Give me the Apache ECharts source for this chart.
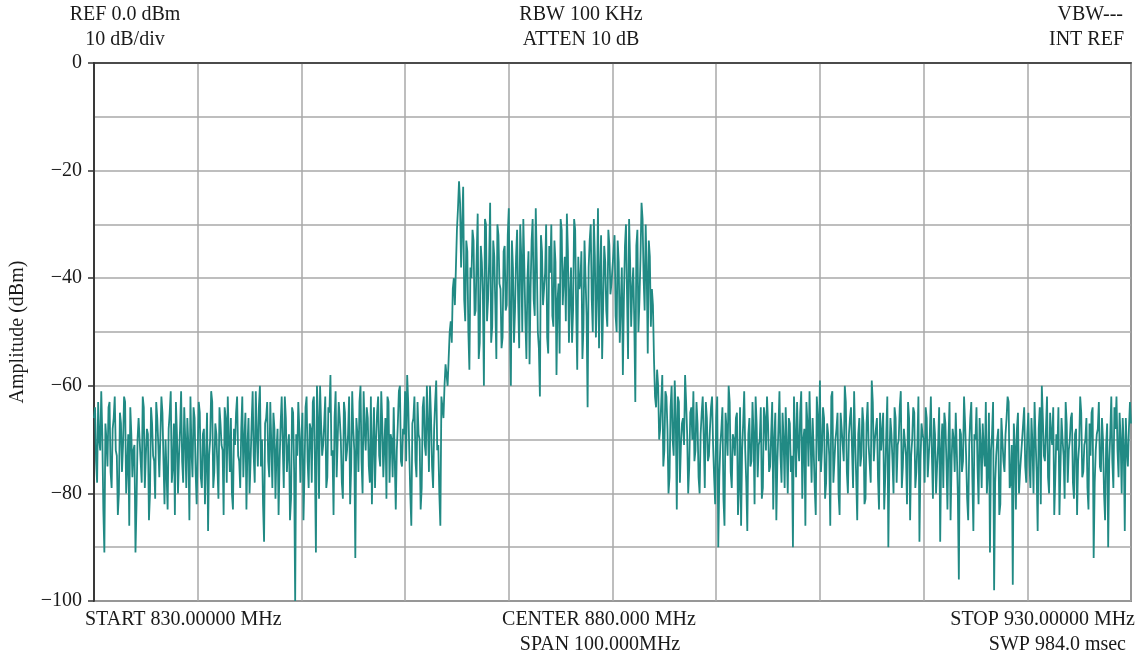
<!DOCTYPE html>
<html>
<head>
<meta charset="utf-8">
<script src="https://cdn.jsdelivr.net/npm/echarts@6/dist/echarts.min.js"></script>
<style>
html,body{margin:0;padding:0;background:#fff;}
#chart{width:1145px;height:661px;}
</style>
</head>
<body>
<div id="chart"></div>
<script>
// Frequency sweep (MHz)
const startMHz = 830;
const stopMHz = 930;
const stepMHz = 0.1;

// Amplitude (dBm) read at 830.0, 830.2, ... (even samples)
const amp830 = [-66,-74,-63,-72,-69,-91,-70,-64,-76,-68, -62,-73,-80,-67,-71,-63,-75,-86,-69,-72,
  -91,-70,-66,-78,-64,-73,-69,-80,-67,-74, -63,-71,-77,-65,-82,-70,-68,-61,-75,-84,
  -69,-73,-61,-78,-70,-66,-85,-72,-64,-76];
const amp840 = [-72,-65,-79,-68,-74,-87,-70,-63,-76,-69, -81,-67,-72,-64,-78,-70,-66,-83,-71,-62,
  -74,-68,-77,-65,-71,-80,-67,-73,-61,-75, -60,-70,-89,-66,-74,-63,-79,-68,-72,-84,
  -67,-71,-62,-76,-69,-81,-65,-100,-73,-68];
const amp850 = [-70,-85,-64,-74,-67,-78,-62,-91,-66,-60, -73,-67,-79,-64,-58,-72,-66,-77,-63,-70,
  -81,-65,-72,-62,-75,-68,-92,-69,-63,-74, -61,-72,-66,-78,-82,-64,-70,-62,-75,-67,
  -71,-81,-63,-69,-77,-64,-72,-61,-74,-68];
const amp860 = [-61,-58,-72,-86,-66,-74,-63,-70,-79,-62, -73,-67,-60,-75,-68,-59,-71,-86,-64,-60,
  -58,-55,-48,-42,-45,-31,-22,-38,-23,-48, -35,-57,-40,-33,-46,-28,-52,-37,-60,-30,
  -44,-26,-49,-36,-55,-32,-42,-51,-34,-45];
const amp870 = [-27,-60,-38,-46,-31,-53,-36,-29,-48,-40, -56,-33,-44,-27,-50,-62,-35,-42,-30,-54,
  -39,-47,-33,-58,-41,-29,-45,-36,-28,-52, -38,-46,-31,-57,-42,-35,-49,-40,-64,-33,
  -44,-29,-51,-27,-39,-55,-34,-46,-31,-43];
const amp880 = [-41,-32,-50,-37,-45,-58,-34,-43,-29,-49, -38,-63,-31,-44,-26,-40,-30,-54,-36,-42,
  -55,-64,-60,-68,-58,-72,-62,-80,-64,-70, -59,-83,-63,-71,-66,-58,-69,-75,-64,-61,
  -72,-67,-80,-65,-70,-63,-74,-68,-62,-77];
const amp890 = [-66,-90,-71,-64,-86,-68,-60,-76,-69,-73, -65,-79,-86,-67,-72,-87,-66,-74,-69,-62,
  -77,-70,-81,-64,-72,-67,-75,-63,-70,-85, -68,-73,-65,-79,-71,-66,-76,-90,-69,-63,
  -74,-61,-70,-86,-67,-61,-78,-72,-84,-66];
const amp900 = [-59,-72,-66,-78,-69,-86,-61,-74,-68,-80, -65,-71,-60,-76,-69,-64,-79,-70,-85,-66,
  -73,-67,-81,-63,-71,-59,-74,-68,-77,-65, -72,-83,-69,-90,-66,-74,-64,-78,-70,-61,
  -75,-68,-82,-66,-73,-64,-79,-71,-89,-67];
const amp910 = [-70,-64,-77,-69,-73,-66,-80,-71,-89,-67, -65,-74,-70,-85,-68,-76,-72,-96,-69,-74,
  -67,-81,-71,-63,-87,-70,-75,-66,-79,-72, -63,-76,-91,-69,-98,-73,-68,-82,-70,-76,
  -66,-63,-78,-97,-71,-68,-80,-73,-67,-75];
const amp920 = [-69,-74,-66,-80,-70,-87,-64,-60,-73,-68, -77,-65,-71,-84,-69,-64,-75,-70,-81,-67,
  -72,-66,-78,-69,-84,-71,-65,-76,-70,-79, -67,-65,-92,-72,-68,-75,-66,-80,-71,-90,
  -69,-74,-64,-62,-77,-70,-66,-87,-72,-68, -67];

// Amplitude (dBm) read at 830.1, 830.3, ... (odd samples)
const mid830 = [-64,-78,-70,-61,-83,-67,-75,-63,-79,-66, -72,-84,-65,-76,-62,-80,-69,-64,-77,-71,
  -82,-66,-74,-62,-79,-68,-85,-64,-73,-81, -66,-77,-62,-74,-70,-83,-65,-78,-67,-63,
  -80,-68,-74,-64,-79,-71,-62,-77,-66,-82];
const mid840 = [-63,-77,-69,-82,-65,-73,-61,-79,-67,-75, -64,-71,-84,-66,-62,-76,-80,-68,-65,-73,
  -79,-62,-70,-83,-66,-74,-61,-78,-69,-64, -75,-82,-67,-63,-77,-71,-65,-81,-68,-74,
  -62,-79,-66,-72,-85,-64,-76,-69,-63,-78];
const mid850 = [-65,-76,-62,-79,-68,-63,-74,-60,-81,-67, -71,-62,-77,-65,-73,-84,-61,-70,-66,-78,
  -63,-74,-69,-82,-61,-72,-66,-76,-60,-80, -68,-64,-75,-62,-71,-79,-65,-73,-61,-77,
  -66,-62,-78,-70,-64,-83,-67,-60,-75,-69];
const mid860 = [-74,-63,-80,-67,-62,-77,-69,-83,-64,-71, -60,-76,-66,-79,-63,-72,-80,-62,-66,-56,
  -60,-50,-52,-40,-38,-27,-26,-30,-44,-33, -50,-38,-31,-47,-36,-55,-34,-43,-29,-48,
  -37,-52,-33,-45,-30,-41,-53,-35,-46,-32];
const mid870 = [-48,-33,-52,-36,-44,-30,-50,-38,-55,-35, -42,-29,-47,-37,-53,-32,-45,-39,-51,-34,
  -30,-49,-37,-44,-54,-31,-40,-48,-35,-43, -52,-29,-46,-36,-41,-55,-33,-47,-38,-30,
  -50,-36,-43,-53,-32,-45,-37,-49,-34,-41];
const mid880 = [-35,-47,-33,-52,-38,-44,-30,-55,-37,-42, -48,-34,-50,-36,-29,-46,-39,-33,-49,-45,
  -62,-57,-70,-63,-75,-61,-68,-77,-60,-73, -66,-62,-78,-67,-71,-63,-80,-65,-70,-74,
  -63,-77,-69,-62,-79,-66,-73,-64,-71,-82];
const mid890 = [-62,-77,-68,-81,-65,-73,-63,-79,-70,-66, -84,-64,-72,-61,-78,-69,-75,-63,-82,-67,
  -71,-64,-79,-66,-62,-76,-69,-83,-65,-74, -61,-78,-70,-64,-80,-67,-73,-62,-77,-71,
  -65,-81,-68,-63,-75,-70,-66,-79,-62,-74];
const mid900 = [-76,-64,-81,-67,-73,-62,-78,-70,-65,-84, -68,-74,-63,-80,-66,-72,-61,-77,-69,-75,
  -64,-82,-67,-71,-78,-63,-70,-66,-83,-72, -65,-77,-62,-74,-69,-80,-66,-71,-64,-79,
  -68,-73,-63,-85,-70,-65,-76,-62,-74,-69];
const mid910 = [-78,-66,-73,-62,-81,-69,-75,-64,-72,-79, -67,-83,-63,-74,-70,-65,-80,-68,-76,-62,
  -73,-85,-66,-77,-69,-64,-82,-71,-67,-75, -80,-65,-72,-63,-78,-70,-84,-66,-74,-69,
  -62,-79,-71,-67,-83,-65,-76,-70,-64,-78];
const mid920 = [-65,-79,-71,-63,-76,-68,-82,-66,-74,-62, -80,-69,-64,-77,-72,-84,-66,-73,-63,-78,
  -70,-65,-81,-68,-74,-62,-77,-71,-66,-83, -73,-64,-78,-69,-63,-76,-70,-85,-67,-74,
  -62,-79,-68,-72,-65,-80,-71,-66,-75,-63];

const evenSamples = [].concat(amp830, amp840, amp850, amp860, amp870, amp880, amp890, amp900, amp910, amp920);
const oddSamples = [].concat(mid830, mid840, mid850, mid860, mid870, mid880, mid890, mid900, mid910, mid920);
const amplitude = [];
evenSamples.forEach((v, i) => { amplitude.push(v); if (i < oddSamples.length) amplitude.push(oddSamples[i]); });
const trace = amplitude.map((v, i) => [startMHz + i * stepMHz, v]);

const serif = '"Liberation Serif", "DejaVu Serif", serif';
const txt = (text, x, y, align) => ({
  type: 'text', x: x, y: y,
  style: { text: text, font: '20px ' + serif, fill: '#1a1a1a', textAlign: align, textVerticalAlign: 'middle' }
});

const chart = echarts.init(document.getElementById('chart'), null, { renderer: 'canvas' });
chart.setOption({
  animation: false,
  backgroundColor: '#ffffff',
  grid: { left: 92, right: 14, top: 63, bottom: 60, show: true, borderColor: '#333', borderWidth: 1.5, backgroundColor: 'transparent' },
  xAxis: {
    type: 'value', min: startMHz, max: stopMHz, interval: 10,
    axisLine: { show: true, lineStyle: { color: '#333', width: 1.5 } },
    axisTick: { show: false },
    axisLabel: { show: false },
    splitLine: { show: true, lineStyle: { color: '#a8a8a8', width: 1.5 } }
  },
  yAxis: [{
    type: 'value', min: -100, max: 0, interval: 10,
    axisLine: { show: true, lineStyle: { color: '#333', width: 1.5 } },
    axisTick: { show: false },
    axisLabel: { show: false },
    splitLine: { show: true, lineStyle: { color: '#a8a8a8', width: 1.5 } }
  }, {
    type: 'value', min: -100, max: 0, interval: 20, position: 'left',
    name: 'Amplitude (dBm)', nameLocation: 'middle', nameGap: 66,
    nameTextStyle: { fontFamily: serif, fontSize: 20, color: '#1a1a1a' },
    axisLine: { show: true, lineStyle: { color: '#333', width: 1.5 } },
    axisTick: { show: true, length: 6, lineStyle: { color: '#333', width: 1.5 } },
    axisLabel: {
      show: true, fontFamily: serif, fontSize: 20, color: '#1a1a1a', margin: 12,
      formatter: v => (v < 0 ? '\u2212' + Math.abs(v) : String(v))
    },
    splitLine: { show: false }
  }],
  series: [{
    type: 'line', data: trace, showSymbol: false, symbol: 'none', sampling: false,
    lineStyle: { color: '#218a84', width: 1.8, join: 'bevel' },
    yAxisIndex: 0
  }],
  graphic: [
    txt('REF 0.0 dBm', 125, 15, 'center'),
    txt('10 dB/div', 125, 40, 'center'),
    txt('RBW 100 KHz', 581, 15, 'center'),
    txt('ATTEN 10 dB', 581, 40, 'center'),
    txt('VBW---', 1123, 15, 'right'),
    txt('INT REF', 1124, 40, 'right'),
    txt('START 830.00000 MHz', 85, 620, 'left'),
    txt('CENTER 880.000 MHz', 599, 620, 'center'),
    txt('SPAN 100.000MHz', 600, 645, 'center'),
    txt('STOP 930.00000 MHz', 1135, 620, 'right'),
    txt('SWP 984.0 msec', 1126, 645, 'right')
  ]
});
</script>
</body>
</html>
